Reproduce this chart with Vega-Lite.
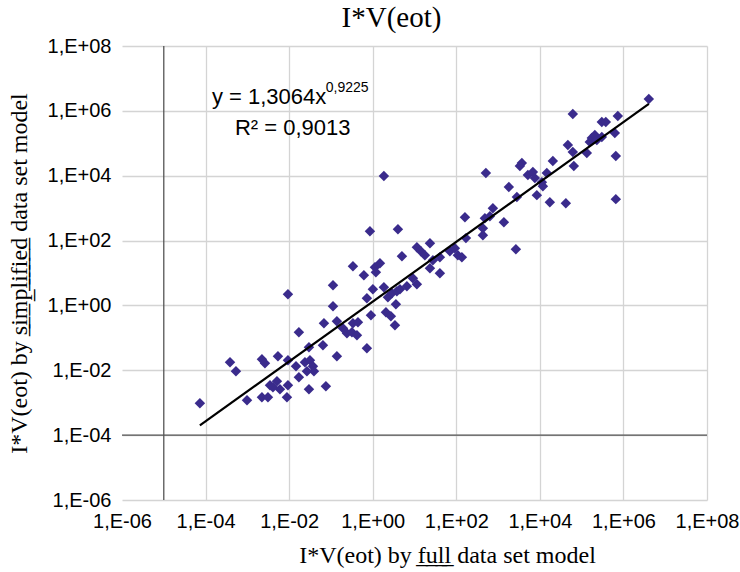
{
  "$schema": "https://vega.github.io/schema/vega-lite/v6.json",
  "width": 585,
  "height": 454,
  "autosize": {"type": "none"},
  "padding": {"left": 122, "top": 46, "right": 33, "bottom": 72},
  "background": "white",
  "title": {"text": "I*V(eot)", "font": "Liberation Serif", "fontSize": 29, "fontWeight": "normal", "color": "black", "dx": -23, "offset": 3},
  "config": {"view": {"stroke": null}},
  "resolve": {"axis": {"x": "independent", "y": "independent"}},
  "datasets": {
    "points": [
      {"x": 7.3e-5, "y": 9.6e-4}, {"x": 3.84e-4, "y": 1.77e-2}, {"x": 5.33e-4, "y": 9.3e-3}, {"x": 9.8e-4, "y": 1.19e-3},
      {"x": 2.23e-3, "y": 2.19e-2}, {"x": 2.64e-3, "y": 1.64e-2}, {"x": 2.23e-3, "y": 1.47e-3}, {"x": 3.11e-3, "y": 1.47e-3},
      {"x": 3.48e-3, "y": 3.44e-3}, {"x": 5.1e-3, "y": 4.57e-3}, {"x": 6.03e-3, "y": 2.59e-3}, {"x": 4.09e-3, "y": 2.99e-3},
      {"x": 5.4e-3, "y": 2.7e-2}, {"x": 9.35e-3, "y": 2.22}, {"x": 9.35e-3, "y": 2.04e-2}, {"x": 9.35e-3, "y": 3.44e-3},
      {"x": 8.85e-3, "y": 1.47e-3}, {"x": 1.46e-2, "y": 1.33e-2}, {"x": 1.71e-2, "y": 0.149}, {"x": 1.71e-2, "y": 6.08e-3},
      {"x": 2.98e-2, "y": 2.59e-3}, {"x": 2.98e-2, "y": 5.13e-2}, {"x": 2.39e-2, "y": 1.77e-2}, {"x": 3.15e-2, "y": 2.04e-2},
      {"x": 3.71e-2, "y": 1.33e-2}, {"x": 2.67e-2, "y": 9.3e-3}, {"x": 3.92e-2, "y": 9.3e-3}, {"x": 6.44e-2, "y": 5.91e-2},
      {"x": 7.58e-2, "y": 3.21e-3}, {"x": 0.112, "y": 4.2}, {"x": 0.112, "y": 0.944}, {"x": 6.81e-2, "y": 0.282},
      {"x": 0.139, "y": 0.325}, {"x": 0.139, "y": 2.7e-2}, {"x": 0.194, "y": 0.198}, {"x": 0.242, "y": 0.139},
      {"x": 0.318, "y": 0.149}, {"x": 0.419, "y": 0.12}, {"x": 0.336, "y": 0.282}, {"x": 0.443, "y": 0.303},
      {"x": 0.336, "y": 16.2}, {"x": 0.615, "y": 8.55}, {"x": 0.726, "y": 4.77e-2}, {"x": 0.726, "y": 1.67},
      {"x": 0.906, "y": 0.499}, {"x": 1.01, "y": 3.16}, {"x": 1.13, "y": 15.1}, {"x": 1.49, "y": 20.0},
      {"x": 1.19, "y": 10.6}, {"x": 1.85, "y": 3.65}, {"x": 1.85, "y": 9730}, {"x": 0.857, "y": 195},
      {"x": 4.01, "y": 225}, {"x": 2.31, "y": 1.79}, {"x": 2.88, "y": 2.38}, {"x": 3.79, "y": 2.74},
      {"x": 4.48, "y": 3.16}, {"x": 2.07, "y": 0.617}, {"x": 2.72, "y": 0.464}, {"x": 3.4, "y": 0.245},
      {"x": 3.59, "y": 1.09}, {"x": 5.0, "y": 33.0}, {"x": 6.58, "y": 3.91}, {"x": 9.16, "y": 6.92},
      {"x": 11.4, "y": 4.51}, {"x": 11.4, "y": 62.5}, {"x": 14.2, "y": 47.1}, {"x": 17.7, "y": 35.4},
      {"x": 23.4, "y": 83.2}, {"x": 23.4, "y": 14.1}, {"x": 40.5, "y": 9.86}, {"x": 27.5, "y": 24.8},
      {"x": 40.5, "y": 30.7}, {"x": 70.3, "y": 47.1}, {"x": 92.6, "y": 58.2}, {"x": 109, "y": 35.4},
      {"x": 136, "y": 30.7}, {"x": 170, "y": 119}, {"x": 161, "y": 527}, {"x": 483, "y": 491},
      {"x": 637, "y": 566}, {"x": 751, "y": 1000}, {"x": 433, "y": 241}, {"x": 433, "y": 147},
      {"x": 1376, "y": 370}, {"x": 511, "y": 12030}, {"x": 1811, "y": 4450}, {"x": 2818, "y": 2188},
      {"x": 2667, "y": 54.3}, {"x": 3707, "y": 24490}, {"x": 3327, "y": 19780}, {"x": 5164, "y": 10440},
      {"x": 6808, "y": 12910}, {"x": 7590, "y": 8430}, {"x": 11170, "y": 6340}, {"x": 14690, "y": 12030},
      {"x": 11800, "y": 4770}, {"x": 8470, "y": 2520}, {"x": 17340, "y": 1531}, {"x": 41880, "y": 1426},
      {"x": 20460, "y": 28220}, {"x": 46770, "y": 87960}, {"x": 61520, "y": 53460}, {"x": 65010, "y": 19780},
      {"x": 133000, "y": 49890}, {"x": 61520, "y": 796000}, {"x": 157000, "y": 108900}, {"x": 175400, "y": 144700},
      {"x": 207000, "y": 179100}, {"x": 231200, "y": 125600}, {"x": 304300, "y": 155300}, {"x": 304300, "y": 450900},
      {"x": 379300, "y": 450900}, {"x": 622300, "y": 206500}, {"x": 734500, "y": 691800}, {"x": 657700, "y": 40270},
      {"x": 657700, "y": 1897}, {"x": 4055000, "y": 2310000}
    ],
    "trend": [
      {"x": 7.3e-5, "y": 2.0e-4},
      {"x": 4055000, "y": 1630000}
    ]
  },
  "layer": [
    {
      "data": {"name": "points"},
      "mark": {"type": "point", "shape": "diamond", "filled": true, "size": 110, "color": "#3a2b8c", "opacity": 1},
      "encoding": {
        "x": {
          "field": "x", "type": "quantitative",
          "scale": {"type": "log", "domain": [1e-6, 1e8], "nice": false},
          "axis": {
            "values": [1e-6, 1e-4, 1e-2, 1, 1e2, 1e4, 1e6, 1e8],
            "labelExpr": "'1,E' + (datum.value >= 1 ? '+' : '-') + format(abs(round(log(datum.value)/LN10)), '02d')",
            "labelFont": "Liberation Sans", "labelFontSize": 20, "labelColor": "black", "labelPadding": 11,
            "labelOverlap": false, "labelFlush": false,
            "domain": false, "ticks": false,
            "grid": true, "gridColor": {"condition": {"test": "datum.value <= 1e-6", "value": "transparent"}, "value": "#d4d4d4"}, "gridWidth": 1.3,
            "title": "I*V(eot) by f\u0332u\u0332l\u0332l\u0332 data set model",
            "titleFont": "Liberation Serif", "titleFontSize": 24, "titleFontWeight": "normal", "titleColor": "black",
            "titlePadding": 12, "titleX": 325
          }
        },
        "y": {
          "field": "y", "type": "quantitative",
          "scale": {"type": "log", "domain": [1e-6, 1e8], "nice": false},
          "axis": {
            "values": [1e-6, 1e-4, 1e-2, 1, 1e2, 1e4, 1e6, 1e8],
            "labelExpr": "'1,E' + (datum.value >= 1 ? '+' : '-') + format(abs(round(log(datum.value)/LN10)), '02d')",
            "labelFont": "Liberation Sans", "labelFontSize": 20, "labelColor": "black", "labelPadding": 11,
            "labelOverlap": false, "labelFlush": false,
            "domain": false, "ticks": false,
            "grid": true, "gridColor": "#d4d4d4", "gridWidth": 1.3,
            "title": "I*V(eot) by s\u0332i\u0332m\u0332p\u0332l\u0332i\u0332f\u0332i\u0332e\u0332d\u0332 data set model",
            "titleFont": "Liberation Serif", "titleFontSize": 24, "titleFontWeight": "normal", "titleColor": "black",
            "titlePadding": 16
          }
        }
      }
    },
    {
      "data": {"values": [{}]},
      "mark": {"type": "rule", "color": "#555555", "strokeWidth": 1.3},
      "encoding": {"y": {"datum": 1e-4, "type": "quantitative", "axis": null}}
    },
    {
      "data": {"values": [{}]},
      "mark": {"type": "rule", "color": "#555555", "strokeWidth": 1.3},
      "encoding": {"x": {"datum": 1e-5, "type": "quantitative", "axis": null}}
    },
    {
      "data": {"name": "trend"},
      "mark": {"type": "line", "color": "black", "strokeWidth": 2.2},
      "encoding": {
        "x": {"field": "x", "type": "quantitative", "axis": null},
        "y": {"field": "y", "type": "quantitative", "axis": null}
      }
    },
    {
      "data": {"values": [{}]},
      "mark": {"type": "text", "text": "y = 1,3064x", "font": "Liberation Sans", "fontSize": 22, "align": "left", "baseline": "middle", "color": "black"},
      "encoding": {"x": {"datum": 1.42e-4, "type": "quantitative", "axis": null}, "y": {"datum": 2.67e6, "type": "quantitative", "axis": null}}
    },
    {
      "data": {"values": [{}]},
      "mark": {"type": "text", "text": "0,9225", "font": "Liberation Sans", "fontSize": 14, "align": "left", "baseline": "middle", "color": "black"},
      "encoding": {"x": {"datum": 7.5e-2, "type": "quantitative", "axis": null}, "y": {"datum": 5.06e6, "type": "quantitative", "axis": null}}
    },
    {
      "data": {"values": [{}]},
      "mark": {"type": "text", "text": "R² = 0,9013", "font": "Liberation Sans", "fontSize": 22, "align": "left", "baseline": "middle", "color": "black"},
      "encoding": {"x": {"datum": 5.05e-4, "type": "quantitative", "axis": null}, "y": {"datum": 2.94e5, "type": "quantitative", "axis": null}}
    }
  ]
}
